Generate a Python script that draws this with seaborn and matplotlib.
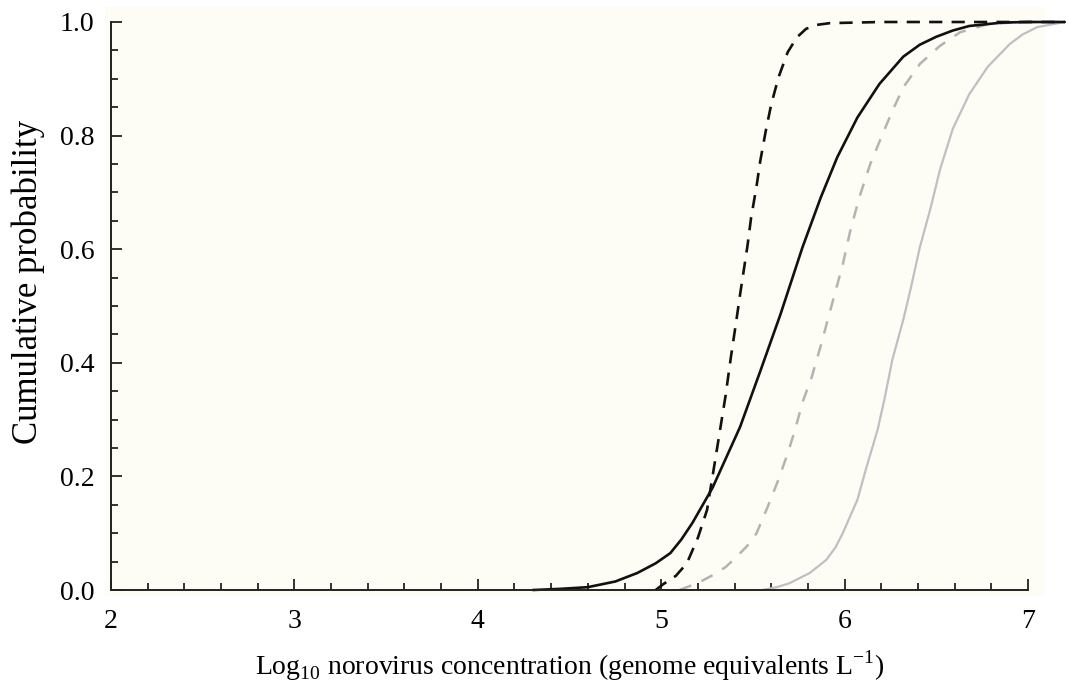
import numpy as np
import pandas as pd
import seaborn as sns
import matplotlib.pyplot as plt
from matplotlib.patches import Rectangle
from matplotlib.ticker import MultipleLocator

# curves (log10 concentration, cumulative probability)
solid_black_x = [4.30, 4.45, 4.60, 4.75, 4.87, 4.97, 5.05, 5.11, 5.17, 5.28, 5.43, 5.54, 5.65, 5.77, 5.87,
                 5.96, 6.07, 6.19, 6.32, 6.41, 6.50, 6.59, 6.68, 6.86, 7.00, 7.20]
solid_black_y = [0.000, 0.002, 0.005, 0.015, 0.030, 0.047, 0.065, 0.089, 0.118, 0.180, 0.287, 0.385, 0.485, 0.603, 0.691,
                 0.762, 0.832, 0.891, 0.939, 0.960, 0.974, 0.985, 0.993, 0.999, 1.000, 1.000]

dash_black_x = [4.97, 5.01, 5.08, 5.14, 5.20, 5.25, 5.29, 5.32, 5.35, 5.38, 5.41, 5.43, 5.47,
                5.49, 5.52, 5.54, 5.57, 5.60, 5.64, 5.69, 5.74, 5.79, 5.85, 5.92, 6.20, 7.20]
dash_black_y = [0.000, 0.010, 0.025, 0.047, 0.092, 0.141, 0.220, 0.280, 0.340, 0.410, 0.475, 0.520, 0.605,
                0.655, 0.711, 0.755, 0.808, 0.855, 0.903, 0.947, 0.973, 0.988, 0.995, 0.998, 1.000, 1.000]

dash_grey_x = [5.10, 5.14, 5.21, 5.28, 5.35, 5.41, 5.47, 5.52, 5.58, 5.64, 5.69, 5.73, 5.77, 5.82, 5.87, 5.92,
               5.99, 6.03, 6.08, 6.14, 6.21, 6.26, 6.32, 6.41, 6.52, 6.63, 6.78, 6.95, 7.20]
dash_grey_y = [0.000, 0.005, 0.014, 0.026, 0.040, 0.058, 0.078, 0.100, 0.146, 0.195, 0.241, 0.282, 0.330, 0.374, 0.430, 0.490,
               0.573, 0.631, 0.691, 0.750, 0.805, 0.843, 0.885, 0.926, 0.958, 0.982, 0.996, 1.000, 1.000]

solid_grey_x = [5.55, 5.63, 5.70, 5.81, 5.90, 5.95, 5.99, 6.07, 6.12, 6.18, 6.22, 6.26, 6.32, 6.36,
                6.41, 6.47, 6.52, 6.59, 6.68, 6.78, 6.90, 6.97, 7.05, 7.20]
solid_grey_y = [0.000, 0.005, 0.012, 0.030, 0.053, 0.075, 0.100, 0.159, 0.217, 0.282, 0.340, 0.405, 0.476, 0.530,
                0.603, 0.674, 0.740, 0.812, 0.873, 0.921, 0.961, 0.978, 0.991, 1.000]

sns.set_style("ticks")
plt.rcParams['font.family'] = ['Liberation Serif', 'DejaVu Serif']
plt.rcParams['mathtext.fontset'] = 'custom'
plt.rcParams['mathtext.rm'] = 'Liberation Serif'
plt.rcParams['text.color'] = 'black'
plt.rcParams['axes.labelcolor'] = 'black'
plt.rcParams['xtick.labelcolor'] = 'black'
plt.rcParams['ytick.labelcolor'] = 'black'

fig = plt.figure(figsize=(10.69, 6.88), dpi=100)
W, H = 1069, 688
ax = fig.add_axes([111 / W, 1 - 590 / H, (1028 - 111) / W, (590 - 22) / H])
ax.patch.set_alpha(0)
# pale cream panel behind the plot, a little larger than the axes
fig.patches.append(Rectangle((105 / W, 1 - 596 / H), (1045 - 105) / W, (596 - 7) / H,
                             transform=fig.transFigure, facecolor='#fdfdf6',
                             edgecolor='none', zorder=-10))

curves = [
    (solid_grey_x, solid_grey_y, '#bfbfc5', '-', 1.6),
    (dash_grey_x, dash_grey_y, '#b3b3b3', (0, (5, 4.5)), 1.8),
    (solid_black_x, solid_black_y, '#111111', '-', 1.9),
    (dash_black_x, dash_black_y, '#111111', (0, (5, 3.5)), 1.9),
]
for xs, ys, c, ls, lw in curves:
    df = pd.DataFrame({'x': xs, 'y': ys})
    sns.lineplot(data=df, x='x', y='y', ax=ax, color=c, linestyle=ls, linewidth=lw,
                 clip_on=False)

ax.set_xlim(2, 7)
ax.set_ylim(0, 1)
ax.xaxis.set_major_locator(MultipleLocator(1))
ax.xaxis.set_minor_locator(MultipleLocator(0.2))
ax.yaxis.set_major_locator(MultipleLocator(0.2))
ax.yaxis.set_minor_locator(MultipleLocator(0.05))
ax.yaxis.set_major_formatter(plt.FormatStrFormatter('%.1f'))

for s in ['top', 'right']:
    ax.spines[s].set_visible(False)
for s in ['left', 'bottom']:
    ax.spines[s].set_linewidth(1.4)
    ax.spines[s].set_color('#222222')

ax.tick_params(which='major', direction='in', length=8, width=1.3, color='#222222',
               labelsize=20, pad=12)
ax.tick_params(which='minor', direction='in', length=5, width=1.3, color='#222222')
ax.tick_params(axis='x', which='major', pad=14)

ax.set_xlabel(r'Log$_\mathrm{10}$ norovirus concentration (genome equivalents L$^\mathrm{-1}$)',
              fontsize=20, labelpad=10)
ax.set_ylabel('Cumulative probability', fontsize=25)
ax.yaxis.set_label_coords(-0.072, 0.542)

fig.savefig('out.png', dpi=100)
